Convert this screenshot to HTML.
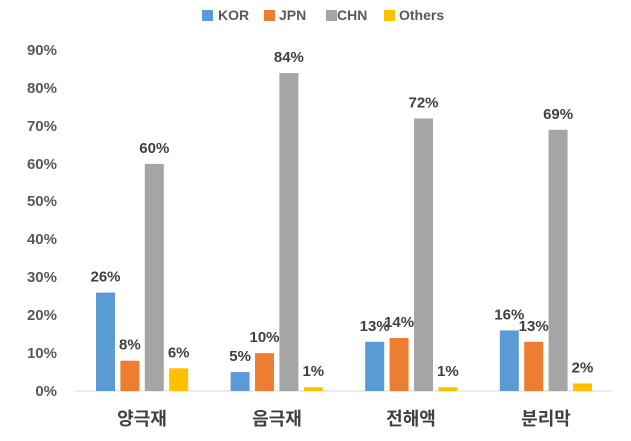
<!DOCTYPE html>
<html><head><meta charset="utf-8"><style>
html,body{margin:0;padding:0;background:#fff;}
svg{display:block;font-family:"Liberation Sans","Noto Sans CJK KR",sans-serif;font-weight:bold;}
</style></head><body>
<svg width="631" height="441" viewBox="0 0 631 441" xmlns="http://www.w3.org/2000/svg">
<g fill="#595959" font-size="15" text-anchor="end">
<text x="57" y="396">0%</text>
<text x="57" y="358">10%</text>
<text x="57" y="320">20%</text>
<text x="57" y="282">30%</text>
<text x="57" y="244">40%</text>
<text x="57" y="206">50%</text>
<text x="57" y="169">60%</text>
<text x="57" y="131">70%</text>
<text x="57" y="93">80%</text>
<text x="57" y="55">90%</text>
</g>
<line x1="74" y1="391" x2="612" y2="391" stroke="#d9d9d9" stroke-width="1"/>
<g id="bars"></g>
<g font-size="15" fill="#404040" text-anchor="middle" id="lbls"></g>
<g font-size="18" fill="#404040" text-anchor="middle">
<text x="142" y="425">양극재</text>
<text x="277" y="425">음극재</text>
<text x="411" y="425">전해액</text>
<text x="546" y="425">분리막</text>
</g>
<g font-size="14" fill="#595959">
<rect x="202" y="10" width="11" height="11" fill="#5b9bd5"/><text x="218" y="20">KOR</text>
<rect x="264" y="10" width="11" height="11" fill="#ed7d31"/><text x="279" y="20">JPN</text>
<rect x="326" y="10" width="11" height="11" fill="#a5a5a5"/><text x="337" y="20">CHN</text>
<rect x="384" y="10" width="11" height="11" fill="#ffc000"/><text x="399" y="20">Others</text>
</g>
<script>
var d=[[26,8,60,6],[5,10,84,1],[13,14,72,1],[16,13,69,2]];
var c=["#5b9bd5","#ed7d31","#a5a5a5","#ffc000"];
var b=document.getElementById("bars"),l=document.getElementById("lbls"),ns="http://www.w3.org/2000/svg";
for(var g=0;g<4;g++)for(var i=0;i<4;i++){var v=d[g][i],x=96+g*134.6+i*24.4,h=v*3.785;
var r=document.createElementNS(ns,"rect");r.setAttribute("x",x);r.setAttribute("y",391-h);r.setAttribute("width",19);r.setAttribute("height",h);r.setAttribute("fill",c[i]);b.appendChild(r);
var t=document.createElementNS(ns,"text");t.setAttribute("x",x+9.5);t.setAttribute("y",391-h-11);t.textContent=v+"%";l.appendChild(t);}
</script>
</svg>
</body></html>
